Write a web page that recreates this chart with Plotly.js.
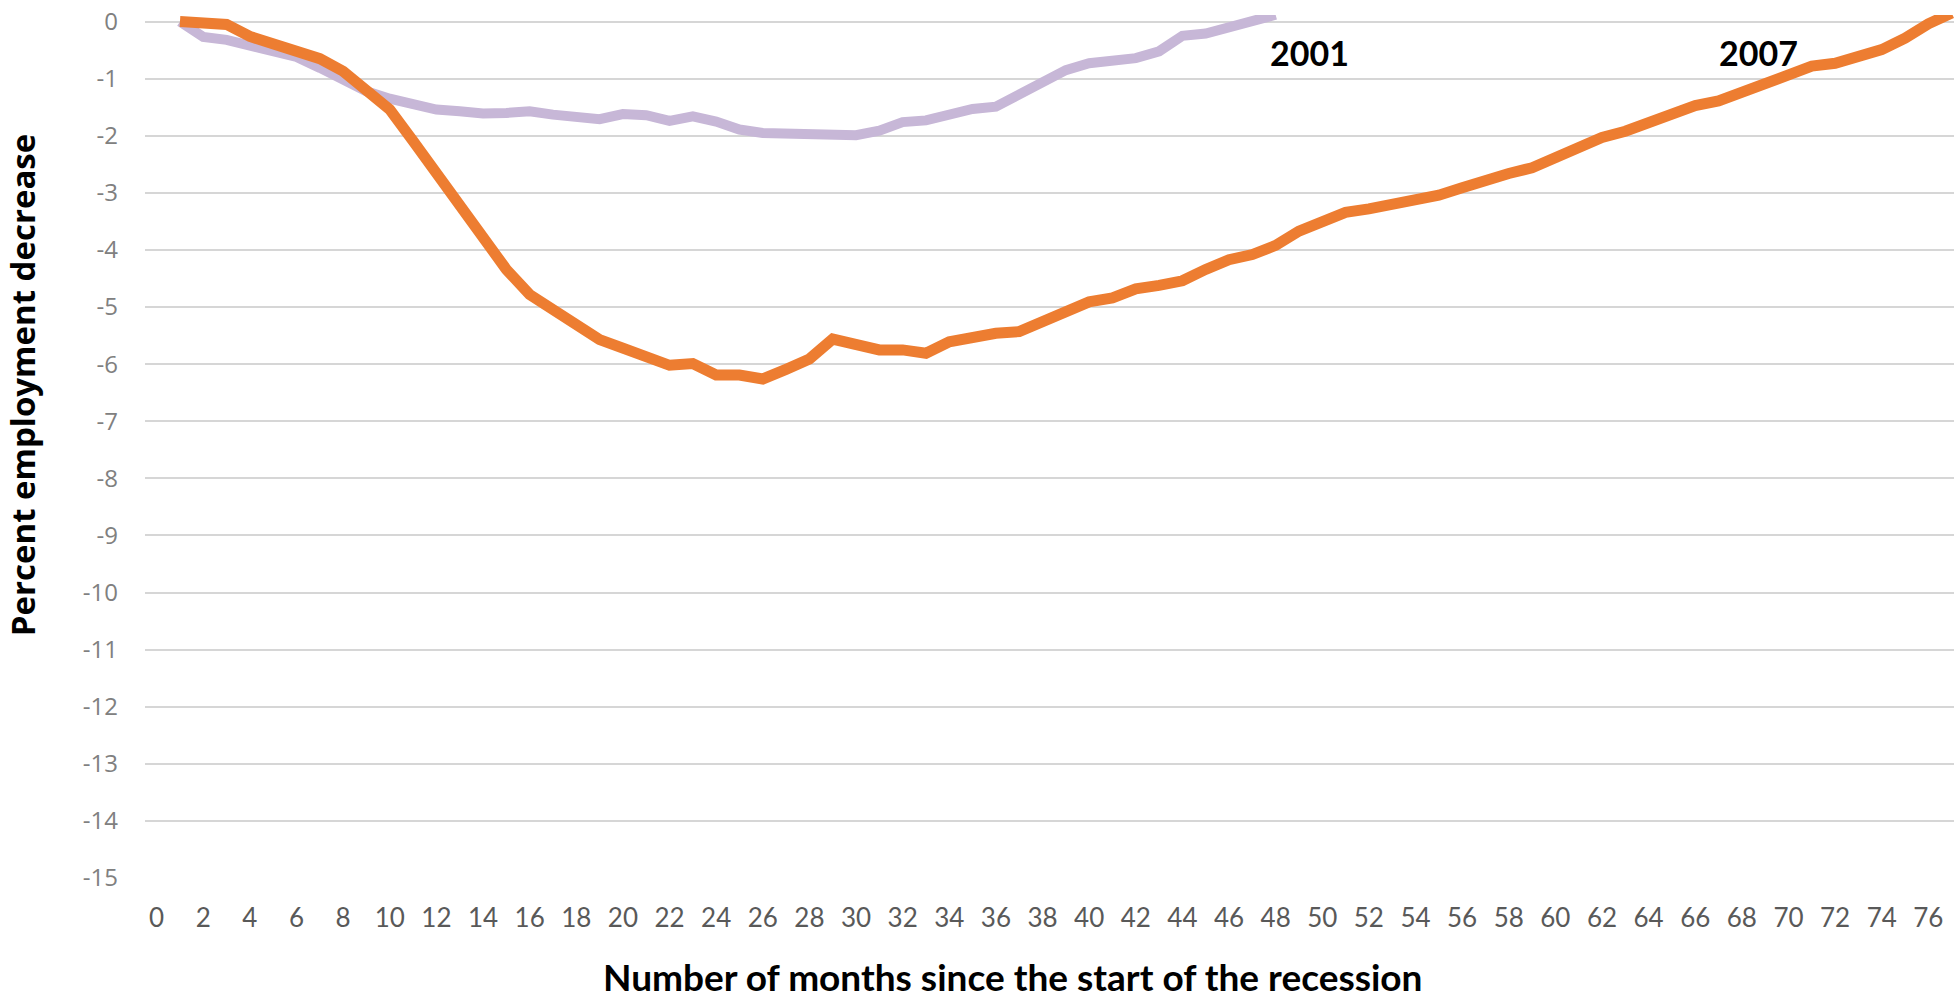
<!DOCTYPE html>
<html>
<head>
<meta charset="utf-8">
<script src="https://cdn.plot.ly/plotly-3.0.1.min.js"></script>
<style>
  html, body { margin: 0; padding: 0; background: #ffffff; }
  #chart { width: 1954px; height: 998px; }
</style>
</head>
<body>
<div id="chart"></div>
<script>
// Months since the start of the recession
const months2007 = [1,2,3,4,5,6,7,8,9,10,11,12,13,14,15,16,17,18,19,20,
  21,22,23,24,25,26,27,28,29,30,31,32,33,34,35,36,37,38,39,40,
  41,42,43,44,45,46,47,48,49,50,51,52,53,54,55,56,57,58,59,60,
  61,62,63,64,65,66,67,68,69,70,71,72,73,74,75,76,77];
// 2007 recession: percent employment change
const values2007 = [0,-0.03,-0.05,-0.26,-0.40,-0.52,-0.65,-0.87,-1.19,-1.54,
  -2.09,-2.65,-3.20,-3.75,-4.34,-4.78,-5.04,-5.33,-5.57,-5.72,
  -5.85,-6.02,-5.99,-6.19,-6.19,-6.26,-6.09,-5.91,-5.56,-5.68,
  -5.75,-5.75,-5.81,-5.61,-5.52,-5.46,-5.43,-5.27,-5.11,-4.91,
  -4.84,-4.68,-4.62,-4.54,-4.34,-4.17,-4.08,-3.92,-3.67,-3.51,
  -3.34,-3.28,-3.20,-3.14,-3.04,-2.91,-2.76,-2.66,-2.56,-2.38,
  -2.20,-2.03,-1.92,-1.76,-1.61,-1.47,-1.39,-1.24,-1.08,-0.94,
  -0.78,-0.73,-0.62,-0.49,-0.29,-0.04,0.15];

const months2001 = [1,2,3,4,5,6,7,8,9,10,11,12,13,14,15,16,17,18,19,20,
  21,22,23,24,25,26,27,28,29,30,31,32,33,34,35,36,37,38,39,40,
  41,42,43,44,45,46,47,48];
// 2001 recession: percent employment change
const values2001 = [0,-0.27,-0.32,-0.41,-0.50,-0.62,-0.81,-1.04,-1.22,-1.35,
  -1.45,-1.54,-1.57,-1.61,-1.60,-1.57,-1.63,-1.66,-1.71,-1.62,
  -1.64,-1.74,-1.66,-1.75,-1.89,-1.95,-1.96,-1.96,-1.96,-1.99,
  -1.91,-1.76,-1.73,-1.63,-1.53,-1.49,-1.28,-1.06,-0.85,-0.73,
  -0.69,-0.64,-0.52,-0.25,-0.21,-0.11,-0.01,0.12];

// Axis ticks
const xTickVals = [0,2,4,6,8,10,12,14,16,18,20,22,24,26,28,30,32,34,36,38,
  40,42,44,46,48,50,52,54,56,58,60,62,64,66,68,70,72,74,76];
const yTickVals = [0,-1,-2,-3,-4,-5,-6,-7,-8,-9,-10,-11,-12,-13,-14,-15];

// Series labels
const seriesNames = ['2001', '2007'];
const labelX = [49.46, 68.7];
const labelY = [-0.54, -0.54];

const xTitle = 'Number of months since the start of the recession';
const yTitle = 'Percent employment decrease';

const traces = [
  {
    x: months2001, y: values2001, type: 'scatter', mode: 'lines',
    name: seriesNames[0],
    line: { color: '#c7b7d7', width: 10 },
    hoverinfo: 'skip'
  },
  {
    x: months2007, y: values2007, type: 'scatter', mode: 'lines',
    name: seriesNames[1],
    line: { color: '#ed7d31', width: 11 },
    hoverinfo: 'skip'
  }
];

const annotations = seriesNames.map((s, i) => ({
  x: labelX[i], y: labelY[i], xref: 'x', yref: 'y',
  text: '<b>' + s + '</b>', showarrow: false,
  xanchor: 'center', yanchor: 'middle',
  font: { family: 'Lato, "Open Sans", sans-serif', size: 34, color: '#000000' }
}));

annotations.push({
  x: 0.4793, y: -0.1147, xref: 'paper', yref: 'paper',
  text: '<b>' + xTitle + '</b>', showarrow: false,
  xanchor: 'center', yanchor: 'middle',
  font: { family: 'Lato, "Open Sans", sans-serif', size: 37, color: '#000000' }
});
annotations.push({
  x: -0.068, y: 0.571, xref: 'paper', yref: 'paper',
  text: '<b>' + yTitle + '</b>', showarrow: false, textangle: -90,
  xanchor: 'center', yanchor: 'middle',
  font: { family: '"Open Sans", sans-serif', size: 33, color: '#000000' }
});

const layout = {
  width: 1954, height: 998,
  margin: { l: 145, r: 0, t: 15, b: 120, pad: 0 },
  paper_bgcolor: '#ffffff', plot_bgcolor: '#ffffff',
  showlegend: false,
  xaxis: {
    range: [-0.5, 77.1],
    tickmode: 'array', tickvals: xTickVals, ticktext: xTickVals.map(String),
    showgrid: false, zeroline: false, showline: false, ticks: '',
    ticklabelstandoff: 22,
    tickfont: { family: 'Lato, "Open Sans", sans-serif', size: 26, color: '#595959' },
    automargin: false, fixedrange: true
  },
  yaxis: {
    range: [-15, 0.1156],
    tickmode: 'array', tickvals: yTickVals, ticktext: yTickVals.map(String),
    showgrid: true, gridcolor: '#d6d6d6', gridwidth: 2,
    zeroline: false, showline: false, ticks: '',
    ticklabelstandoff: 26,
    tickfont: { family: '"Open Sans", sans-serif', size: 24, color: '#808080' },
    automargin: false, fixedrange: true
  },
  annotations: annotations
};

Plotly.newPlot('chart', traces, layout, { staticPlot: true, displayModeBar: false });
</script>
</body>
</html>
